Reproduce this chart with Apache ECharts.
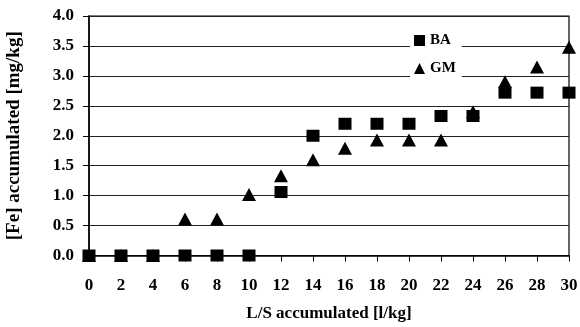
<!DOCTYPE html>
<html><head><meta charset="utf-8">
<script src="https://cdn.jsdelivr.net/npm/echarts@6/dist/echarts.min.js"></script>
<style>html,body{margin:0;padding:0;background:#fff}#c{width:580px;height:327px}</style>
</head><body><div id="c"></div>
<script>
const lsValues = [0,2,4,6,8,10,12,14,16,18,20,22,24,26,28,30];
const baValues = [0,0,0,0,0,0,1.06,2.0,2.2,2.2,2.2,2.33,2.33,2.72,2.72,2.72];
const gmValues = [0,0,0,0.61,0.61,1.02,1.33,1.6,1.79,1.93,1.93,1.93,2.4,2.9,3.15,3.48];
const seriesNames = ['BA','GM'];
const xTitle = 'L/S accumulated [l/kg]';
const yTitle = '[Fe] accumulated [mg/kg]';

const font = 'Liberation Serif';
const chart = echarts.init(document.getElementById('c'));
chart.setOption({
  animation:false,
  backgroundColor:'#fff',
  grid:{left:89,right:11,top:16,bottom:71.5,show:true,borderColor:'#000',borderWidth:1.2,
        containLabel:false,outerBoundsMode:'none'},
  legend:{
    data:[{name:seriesNames[0],icon:'rect'},{name:seriesNames[1],icon:'triangle'}],
    orient:'vertical', left:410, top:30,
    backgroundColor:'#fff', padding:[3,6,4,4], itemGap:13,
    itemWidth:11,itemHeight:11,
    textStyle:{fontFamily:font,fontWeight:'bold',fontSize:15,color:'#000'}
  },
  xAxis:{
    type:'value',min:0,max:30,interval:2,
    name:xTitle,nameLocation:'middle',nameGap:50,
    nameTextStyle:{fontFamily:font,fontWeight:'bold',fontSize:17,color:'#000'},
    axisLine:{lineStyle:{color:'#000',width:1.5}},
    axisTick:{show:true,inside:false,length:6,lineStyle:{color:'#000'}},
    axisLabel:{fontFamily:font,fontWeight:'bold',fontSize:17,color:'#000',margin:22},
    splitLine:{show:false}
  },
  yAxis:{
    type:'value',min:0,max:4,interval:0.5,
    name:yTitle,nameLocation:'middle',nameGap:65,
    nameTextStyle:{fontFamily:font,fontWeight:'bold',fontSize:19,color:'#000'},
    axisLine:{show:true,lineStyle:{color:'#000',width:1.5}},
    axisTick:{show:true,inside:false,length:6,lineStyle:{color:'#000'}},
    axisLabel:{fontFamily:font,fontWeight:'bold',fontSize:17,color:'#000',margin:15,
      formatter:v=>v.toFixed(1)},
    splitLine:{show:true,lineStyle:{color:'#222',width:1.2}}
  },
  series:[
    {name:seriesNames[1],type:'scatter',symbol:'triangle',symbolSize:[14,13],clip:false,
     itemStyle:{color:'#000',opacity:1},z:2,
     data:lsValues.map((x,i)=>[x,gmValues[i]])},
    {name:seriesNames[0],type:'scatter',symbol:'rect',symbolSize:[13,12],clip:false,
     itemStyle:{color:'#000',opacity:1},z:3,
     data:lsValues.map((x,i)=>[x,baValues[i]])}
  ]
});
</script></body></html>
